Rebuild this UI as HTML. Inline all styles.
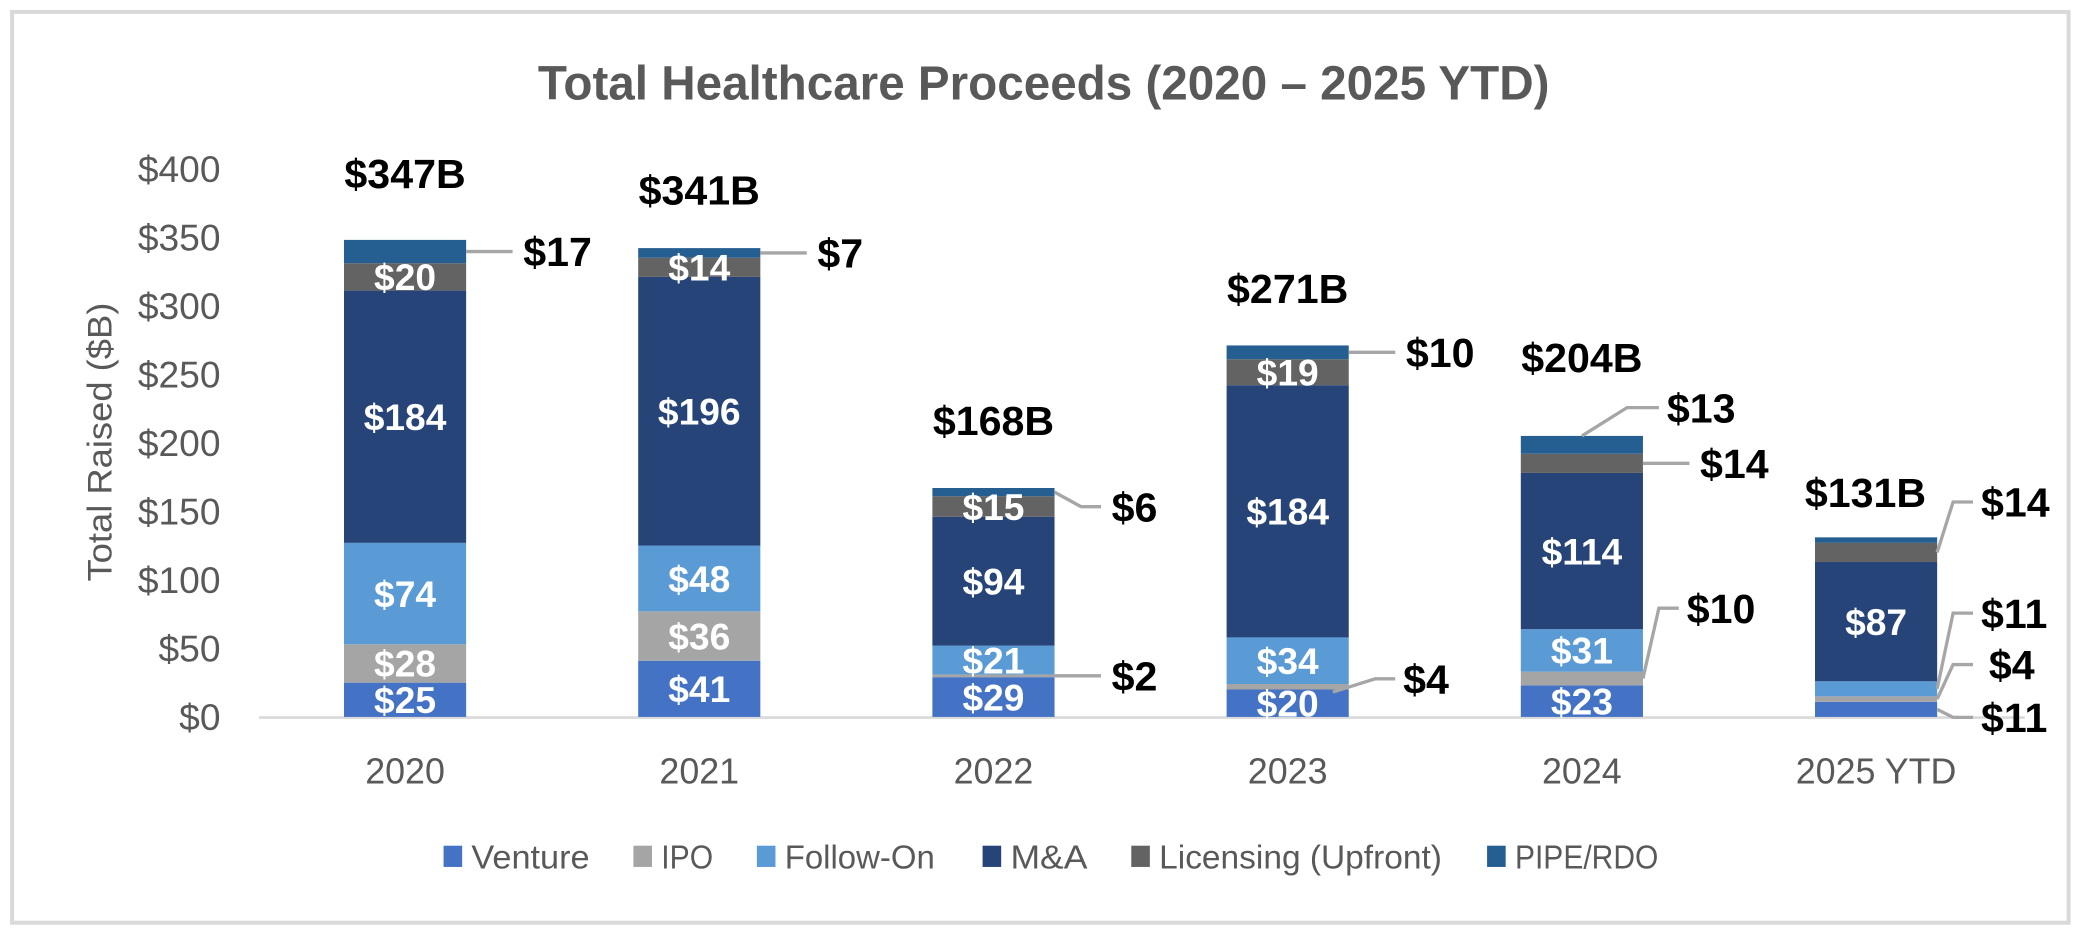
<!DOCTYPE html>
<html><head><meta charset="utf-8">
<style>
html,body{margin:0;padding:0;background:#fff;width:2082px;height:932px;overflow:hidden}
svg{display:block;font-family:"Liberation Sans Narrow","Liberation Sans",sans-serif}
</style></head>
<body>
<svg id="chart" width="2082" height="932" viewBox="0 0 1568 702" xmlns="http://www.w3.org/2000/svg">
<rect x="9" y="9" width="1549" height="686" fill="#fff" stroke="#d9d9d9" stroke-width="3"/>
<text x="786" y="75" text-anchor="middle" font-size="36" font-weight="bold" fill="#595959" textLength="762" lengthAdjust="spacingAndGlyphs">Total Healthcare Proceeds (2020 – 2025 YTD)</text>
<text transform="translate(84,333) rotate(-90)" text-anchor="middle" font-size="26" fill="#595959" textLength="210" lengthAdjust="spacingAndGlyphs">Total Raised ($B)</text>
<g id="yticks"></g>
<line x1="195" y1="540.5" x2="1525" y2="540.5" stroke="#d9d9d9" stroke-width="2"/>
<g id="bars"></g>
<g id="callouts"></g>
<g id="xlabels"></g>
<g id="legend"></g>
</svg>
<script>
const categories = ["2020","2021","2022","2023","2024","2025 YTD"];
const seriesNames = ["Venture","IPO","Follow-On","M&A","Licensing (Upfront)","PIPE/RDO"];
const venture   = [25,41,29,20,23,11];
const ipo       = [28,36,2,4,10,4];
const followOn  = [74,48,21,34,31,11];
const mna       = [184,196,94,184,114,87];
const licensing = [20,14,15,19,14,14];
const pipe      = [17,7,6,10,13,4];
const totals    = [347,341,168,271,204,131];
const yTicks    = [0,50,100,150,200,250,300,350,400];
const insideVenture   = [true,true,true,true,true,false];
const insideIpo       = [true,true,false,false,false,false];
const insideFollowOn  = [true,true,true,true,true,false];
const insideMna       = [true,true,true,true,true,true];
const insideLicensing = [true,true,true,true,false,false];
const insidePipe      = [false,false,false,false,false,false];

const series = [venture,ipo,followOn,mna,licensing,pipe];
const inside = [insideVenture,insideIpo,insideFollowOn,insideMna,insideLicensing,insidePipe];
const colors = ["#4472C4","#A5A5A5","#5B9BD5","#264478","#636363","#255E91"];
const NS="http://www.w3.org/2000/svg";
const y0=540, yTop=127, vMax=400;
function yPos(v){return y0-(v/vMax)*(y0-yTop);}
function xPos(i){return 305+i*221.6;}
const barW=92;
function mk(tag,attrs,parent,text){const e=document.createElementNS(NS,tag);for(const k in attrs)e.setAttribute(k,attrs[k]);if(text!==undefined)e.textContent=text;parent.appendChild(e);return e;}

const yt=document.getElementById('yticks');
yTicks.forEach(t=>{
  const e=mk('text',{x:166,y:yPos(t)+10,'text-anchor':'end','font-size':28,fill:'#595959'},yt,'$'+t);
  
  
});

const bars=document.getElementById('bars');
const segLabels=[];
categories.forEach((c,i)=>{
  let cum=0;
  series.forEach((s,k)=>{
    const v=s[i];
    const yb=yPos(cum), yt2=yPos(cum+v);
    const r=mk('rect',{x:xPos(i)-barW/2,y:yt2,width:barW,height:yb-yt2,fill:colors[k]},bars);
    
    
    if(inside[k][i]) segLabels.push([xPos(i),(yb+yt2)/2+10,'$'+v]);
    cum+=v;
  });
});
segLabels.forEach(l=>{
  const t=mk('text',{x:l[0],y:l[1],'text-anchor':'middle','font-size':28,'font-weight':'bold',fill:'#fff'},bars,l[2]);
  
  
});
const totalDx=[0,0,0,0,0,-8];
const totalDy=[-40,-34,-39,-32,-49,-23];
totals.forEach((v,i)=>{
  const t=mk('text',{x:xPos(i)+totalDx[i],y:yPos(v)+totalDy[i],'text-anchor':'middle','font-size':31,'font-weight':'bold',fill:'#000'},bars,'$'+v+'B');
  
  
});

const callouts=[
  [0,5,0,0],[1,5,0,0],
  [2,1,0,0],[2,5,1,11],
  [3,1,2,-6],[3,5,0,0],
  [4,5,3,-28],[4,4,0,-4],[4,1,4,-53],
  [5,4,4,-38],[5,2,4,-57],[5,1,4,-26],[5,0,4,6]
];
const cg=document.getElementById('callouts');
callouts.forEach(c=>{
  const [i,k,mode,dy]=c;
  let cum=0;for(let j=0;j<k;j++)cum+=series[j][i];
  const v=series[k][i];
  const my=(yPos(cum)+yPos(cum+v))/2;
  const bx=xPos(i)+barW/2;
  let pts;
  if(mode===0) pts=[[bx,my],[bx+35,my]];
  else if(mode===1) pts=[[bx,my],[bx+20,my+dy],[bx+35,my+dy]];
  else if(mode===2) pts=[[bx-12,my+4],[bx+20,my+dy],[bx+35,my+dy]];
  else if(mode===3) pts=[[xPos(i),yPos(cum+v)],[bx-12,my+dy],[bx+12,my+dy]];
  else pts=[[bx,my],[bx+12,my+dy],[bx+27,my+dy]];
  const ly=pts[pts.length-1][1];
  const p=mk('polyline',{points:pts.map(q=>q.join(',')).join(' '),fill:'none',stroke:'#a6a6a6','stroke-width':2.5},cg);
  
  
  const tx=pts[pts.length-1][0]+(k===1&&i===5?12:(mode===1||mode===0?8:6));
  const t=mk('text',{x:tx,y:ly+11,'font-size':31,'font-weight':'bold',fill:'#000'},cg,'$'+v);
  
  
});

const xg=document.getElementById('xlabels');
categories.forEach((c,i)=>{
  const t=mk('text',{x:xPos(i),y:590,'text-anchor':'middle','font-size':27,fill:'#595959'},xg,c);
  
  
});

const lg=document.getElementById('legend');
const legX=[334,477,570,740,852,1120];
const legW=[89,39,113,58,213,108];
seriesNames.forEach((n,k)=>{
  const g=mk('g',{},lg);
  
  
  mk('rect',{x:legX[k],y:637,width:14,height:16,fill:colors[k]},g);
  mk('text',{x:legX[k]+21,y:654,'font-size':25,fill:'#595959',textLength:legW[k],lengthAdjust:'spacingAndGlyphs'},g,n);
});
</script>
</body></html>
